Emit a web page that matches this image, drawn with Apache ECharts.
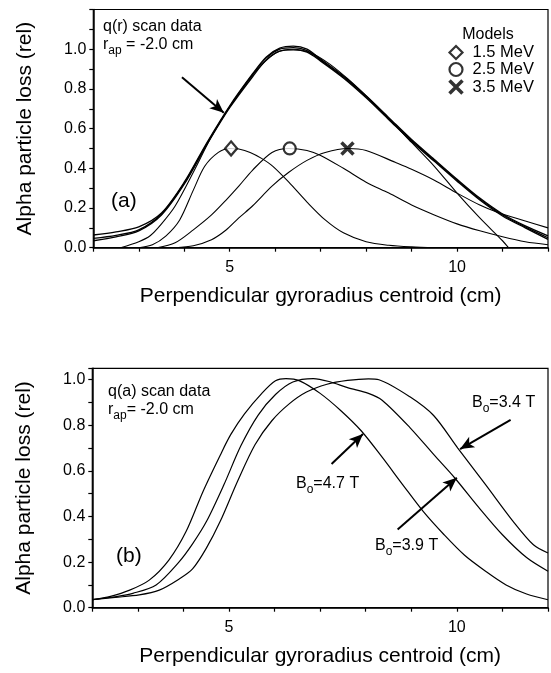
<!DOCTYPE html>
<html><head><meta charset="utf-8">
<script src="https://cdn.jsdelivr.net/npm/echarts@6/dist/echarts.min.js"></script>
<style>html,body{margin:0;padding:0;background:#fff}#c{width:551px;height:673px}</style>
</head><body><div id="c"></div>
<script>
const FONT = '"Liberation Sans", Arial, Helvetica, sans-serif';

// ---- Panel (a): q(r) scan data ----
const dataX = [2,2.5,3,3.5,4,4.5,5,5.5,5.8,6.1,6.4,6.7,7,7.5,8,8.5,9,9.5,10,10.5,11,11.5,12];
const data1 = [0.064,0.08,0.105,0.175,0.33,0.53,0.715,0.875,0.96,1.005,1.015,1.0,0.95,0.865,0.765,0.655,0.545,0.445,0.345,0.25,0.17,0.11,0.06];
const data2 = [0.047,0.062,0.09,0.17,0.325,0.525,0.71,0.87,0.955,1.0,1.008,0.993,0.945,0.86,0.76,0.65,0.54,0.44,0.34,0.245,0.165,0.105,0.05];
const data3 = [0.035,0.055,0.085,0.165,0.32,0.52,0.705,0.86,0.945,0.99,0.997,0.985,0.94,0.855,0.755,0.645,0.535,0.435,0.335,0.24,0.16,0.1,0.042];

const fitX = [2.6,3.0,3.25,3.5,3.8,4.2,4.6,5.0,5.5,6.0,6.4,6.8,7.2,7.6,8.0,8.5,9.0,9.5,10.0,10.5,11.0,11.13];
const fitY = [0,0.03,0.06,0.12,0.21,0.38,0.56,0.71,0.87,0.98,1.0,0.98,0.925,0.85,0.765,0.65,0.53,0.41,0.275,0.15,0.035,0];

const m15X = [3.0,3.3,3.6,3.9,4.2,4.45,4.75,5.0,5.2,5.45,5.7,5.95,6.3,6.7,7.1,7.5,8.0,8.5,9.0,9.5];
const m15Y = [0,0.015,0.06,0.14,0.29,0.41,0.48,0.5,0.497,0.48,0.45,0.41,0.33,0.23,0.14,0.075,0.03,0.012,0.004,0];
const m25X = [3.4,3.8,4.2,4.6,4.92,5.2,5.5,5.93,6.3,6.7,7.0,7.5,8.0,8.5,9.0,9.5,10.0,10.5,11.0,11.5,12.0];
const m25Y = [0,0.025,0.09,0.165,0.24,0.31,0.39,0.48,0.5,0.49,0.465,0.4,0.33,0.275,0.215,0.165,0.12,0.085,0.055,0.03,0.015];
const m35X = [3.8,4.2,4.6,4.92,5.2,5.5,5.93,6.3,6.7,7.1,7.6,8.0,8.64,9.0,9.5,10.0,10.5,10.87,11.5,12];
const m35Y = [0,0.01,0.04,0.089,0.15,0.21,0.31,0.38,0.44,0.48,0.5,0.49,0.43,0.395,0.34,0.275,0.215,0.18,0.135,0.1];

const modelNames = ['1.5 MeV','2.5 MeV','3.5 MeV'];
const markerX = [5.03, 6.32, 7.59];
const markerY = [0.5, 0.5, 0.5];

// arrow in panel (a): [start, tip] in data units
const arrowA = [[3.95, 0.859], [4.87, 0.68]];

// ---- Panel (b): q(a) scan data ----
const b47X = [2.0,2.4,2.82,3.25,3.68,4.06,4.43,4.81,5.04,5.34,5.72,6.02,6.25,6.55,7.0,7.45,7.9,8.36,8.81,9.27,9.72,10.17,10.63,11.08,11.53,12.0];
const b47Y = [0.035,0.05,0.077,0.121,0.209,0.335,0.51,0.67,0.76,0.85,0.94,0.995,1.005,0.995,0.94,0.865,0.776,0.66,0.54,0.42,0.32,0.23,0.16,0.10,0.06,0.035];
const b39X = [2.0,2.5,2.89,3.4,3.9,4.2,4.51,4.89,5.26,5.64,6.02,6.4,6.85,7.23,7.6,8.06,8.36,8.97,9.5,9.95,10.48,11.0,11.53,12.0];
const b39Y = [0.035,0.048,0.063,0.1,0.2,0.28,0.38,0.54,0.71,0.845,0.935,0.99,1.005,0.99,0.965,0.94,0.91,0.79,0.67,0.57,0.44,0.32,0.22,0.16];
const b34X = [2.0,2.5,3.03,3.47,3.9,4.2,4.5,4.81,5.19,5.57,5.94,6.32,6.7,7.15,7.6,8.06,8.29,8.97,9.49,10.02,10.63,11.23,11.68,12.0];
const b34Y = [0.035,0.045,0.056,0.077,0.125,0.17,0.26,0.38,0.556,0.715,0.82,0.894,0.946,0.98,0.997,1.004,1.0,0.925,0.843,0.70,0.54,0.38,0.276,0.24];

const arrow47 = [[7.25, 0.63], [7.94, 0.762]];
const arrow39 = [[8.70, 0.343], [10.0, 0.57]];
const arrow34 = [[11.18, 0.824], [10.07, 0.696]];

// tick label settings
const xMin = 2, xMax = 12, xStep = 1;
const xLabelled = [5, 10];

const pairs = (xs, ys) => xs.map((x, i) => [x, ys[i]]);
const chart = echarts.init(document.getElementById('c'), null, {renderer: 'canvas'});

const axisLineStyle = {color: '#000', width: 1.5};
function xAxisCfg(gi) {
  return {
    type: 'value', gridIndex: gi, min: xMin, max: xMax, interval: xStep,
    axisLine: {show: true, lineStyle: axisLineStyle},
    axisTick: {show: true, length: 4, inside: false, lineStyle: {color: '#000', width: 1.2}},
    axisLabel: {color: '#000', fontSize: 16, fontFamily: FONT, margin: 12,
      formatter: v => xLabelled.includes(v) ? String(v) : ''},
    splitLine: {show: false},
    name: 'Perpendicular gyroradius centroid (cm)', nameLocation: 'middle', nameGap: 38,
    nameTextStyle: {color: '#000', fontSize: 21, fontFamily: FONT}
  };
}
function yAxisCfg(gi, max) {
  return {
    type: 'value', gridIndex: gi, min: 0, max: max, interval: 0.1,
    axisLine: {show: true, lineStyle: axisLineStyle},
    axisTick: {show: true, length: 4, inside: false, lineStyle: {color: '#000', width: 1.2}},
    axisLabel: {color: '#000', fontSize: 16, fontFamily: FONT, margin: 7,
      formatter: v => { const t = Math.round(v * 10); return (Math.abs(v * 10 - t) < 1e-6 && t % 2 === 0 && t <= 10) ? (t / 10).toFixed(1) : ''; }},
    splitLine: {show: false},
    name: 'Alpha particle loss (rel)', nameLocation: 'middle', nameGap: 58,
    nameTextStyle: {color: '#000', fontSize: 21, fontFamily: FONT}
  };
}

function lineSeries(name, xs, ys, gi, w) {
  return {
    type: 'line', name: name, xAxisIndex: gi, yAxisIndex: gi,
    data: pairs(xs, ys), showSymbol: false, symbol: 'none', smooth: 0.3,
    lineStyle: {color: '#000', width: w}, silent: true, z: 2
  };
}
function arrowMark(arr) {
  return [{coord: arr[0], symbol: 'none'}, {coord: arr[1], symbol: 'arrow'}];
}
const markLineBase = {
  silent: true, animation: false, symbolSize: [9, 14],
  label: {show: false}, lineStyle: {color: '#000', width: 2, type: 'solid'},
  emphasis: {disabled: true}
};

const s1 = lineSeries('data1', dataX, data1, 0, 1.3);
s1.markLine = Object.assign({}, markLineBase, {data: [arrowMark(arrowA)]});
const b1 = lineSeries('4.7T', b47X, b47Y, 1, 1.2);
b1.markLine = Object.assign({}, markLineBase, {data: [arrowMark(arrow47), arrowMark(arrow39), arrowMark(arrow34)]});

const markerSymbols = ['diamond', 'circle', 'path://M0,0L10,10M10,0L0,10'];
const markerSizes = [[12, 14], 12, 12];
const markerBorder = [2.2, 2.2, 3.5];
const markerSeries = modelNames.map((n, i) => ({
  type: 'scatter', name: n, xAxisIndex: 0, yAxisIndex: 0,
  data: [[markerX[i], markerY[i]]],
  symbol: markerSymbols[i], symbolSize: markerSizes[i],
  itemStyle: {color: i === 2 ? 'none' : '#fff', borderColor: '#000', borderWidth: markerBorder[i]},
  silent: true, z: 5
}));

const subRich = {
  m: {fontSize: 16, fontFamily: FONT, color: '#000'},
  s: {fontSize: 12, fontFamily: FONT, color: '#000', padding: [11, 0, 0, 0]}
};
function txt(x, y, text, extra) {
  return {type: 'text', x: x, y: y, silent: true, z: 10,
    style: Object.assign({text: text, rich: subRich, fill: '#000', font: '16px ' + FONT, verticalAlign: 'middle', align: 'left'}, extra || {})};
}

chart.setOption({
  animation: false,
  backgroundColor: '#fff',
  grid: [
    {left: 93.3, top: 9.5, width: 462, height: 238.2, show: true, borderColor: '#000', borderWidth: 1.2, backgroundColor: 'transparent', containLabel: false},
    {left: 92.3, top: 368.3, width: 461.3, height: 239.4, show: true, borderColor: '#000', borderWidth: 1.2, backgroundColor: 'transparent', containLabel: false}
  ],
  xAxis: [xAxisCfg(0), xAxisCfg(1)],
  yAxis: [yAxisCfg(0, 1.2), yAxisCfg(1, 1.05)],
  legend: {
    data: modelNames.map((n, i) => ({name: n, itemStyle: {borderWidth: markerBorder[i], borderColor: '#000', color: i === 2 ? 'none' : '#fff'}})),
    orient: 'vertical', left: 447, top: 44, padding: 0,
    itemWidth: 13, itemHeight: 13, itemGap: 0, selectedMode: false,
    textStyle: {color: '#000', fontSize: 16.5, fontFamily: FONT, padding: [0, 0, 0, 5]}
  },
  series: [
    s1,
    lineSeries('data2', dataX, data2, 0, 1.3),
    lineSeries('data3', dataX, data3, 0, 1.3),
    lineSeries('fit', fitX, fitY, 0, 1.1),
    lineSeries('m15', m15X, m15Y, 0, 1.1),
    lineSeries('m25', m25X, m25Y, 0, 1.1),
    lineSeries('m35', m35X, m35Y, 0, 1.1),
    ...markerSeries,
    b1,
    lineSeries('3.9T', b39X, b39Y, 1, 1.2),
    lineSeries('3.4T', b34X, b34Y, 1, 1.2)
  ],
  graphic: [
    txt(103, 27, '{m|q(r) scan data}'),
    txt(103, 45, '{m|r}{s|ap}{m| = -2.0 cm}'),
    txt(111, 201, '(a)', {font: '21px ' + FONT, rich: null}),
    txt(488, 35, 'Models', {align: 'center', rich: null}),
    txt(108, 392, '{m|q(a) scan data}'),
    txt(108, 410, '{m|r}{s|ap}{m|= -2.0 cm}'),
    txt(116, 556, '(b)', {font: '21px ' + FONT, rich: null}),
    txt(296, 484, '{m|B}{s|o}{m|=4.7 T}'),
    txt(375, 546, '{m|B}{s|o}{m|=3.9 T}'),
    txt(472, 403, '{m|B}{s|o}{m|=3.4 T}')
  ]
});
</script>
</body></html>
